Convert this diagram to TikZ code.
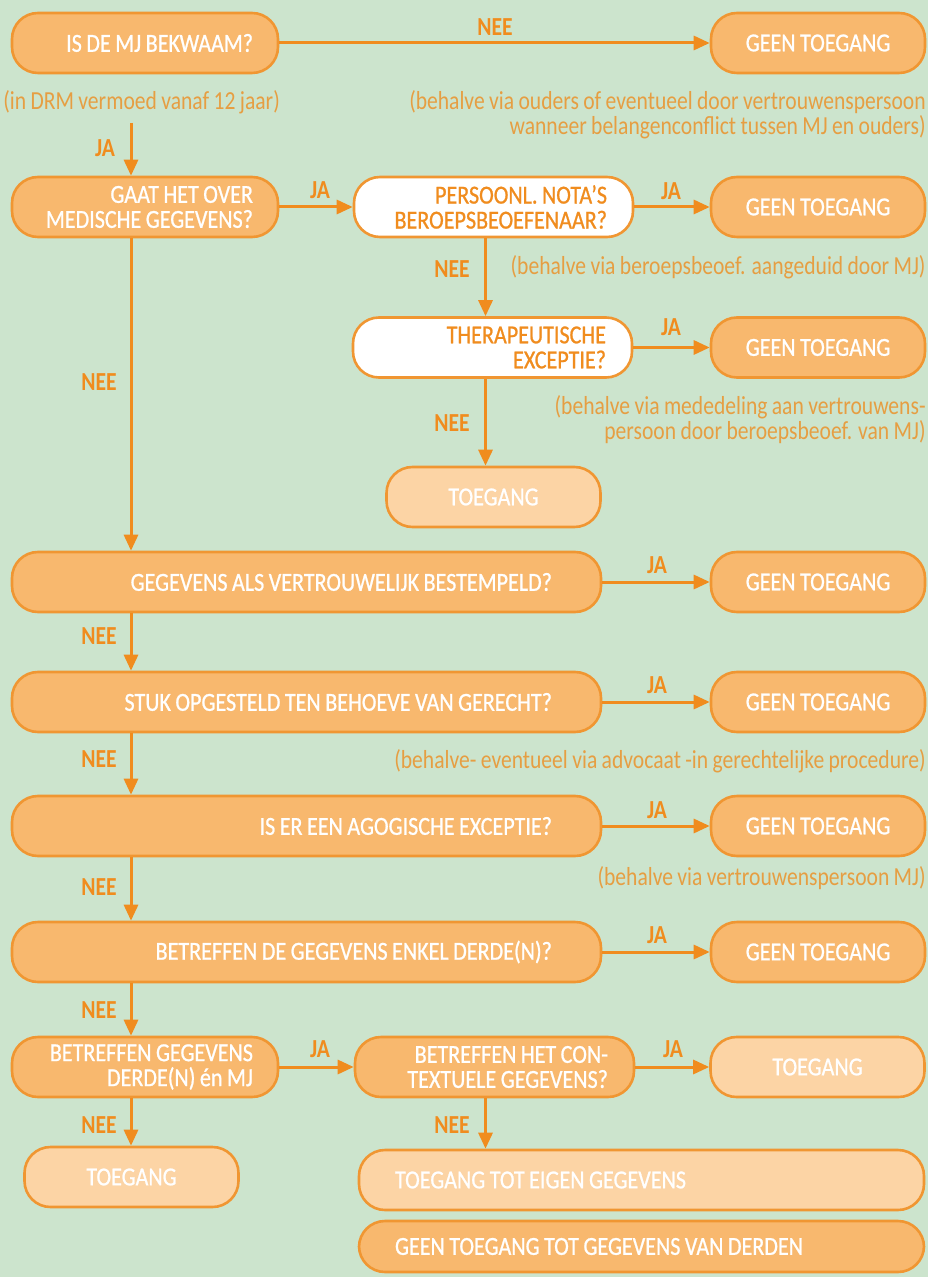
\documentclass[tikz,border=0pt]{standalone}
\usepackage{fontspec}
\setmainfont[FakeStretch=0.83,WordSpace=0.9]{Carlito}
\newfontfamily\vakfont[FakeStretch=0.85,WordSpace=0.9,FakeBold=0.8,Ligatures=TeX]{Carlito}
\usetikzlibrary{arrows.meta}
\definecolor{achtergrond}{RGB}{204,228,205}
\definecolor{oranje}{RGB}{240,140,30}
\definecolor{rand}{RGB}{240,150,50}
\definecolor{donker}{RGB}{248,184,110}
\definecolor{licht}{RGB}{252,212,165}
\definecolor{notakleur}{RGB}{230,158,66}
\begin{document}
\begin{tikzpicture}[x=0.5pt,y=-0.5pt,
    vak/.style={draw=rand,line width=1.3pt,rounded corners=13pt,minimum height=30pt,
        font=\vakfont\fontsize{13}{12.5}\selectfont,text=white},
    donkervak/.style={vak,fill=donker},
    lichtvak/.style={vak,fill=licht},
    witvak/.style={vak,fill=white,text=oranje},
    smal/.style={inner xsep=12.5pt,text width=108pt,align=flush right},
    breed/.style={inner xsep=24.5pt,text width=245.5pt,align=flush right},
    wit/.style={inner xsep=13pt,text width=113.5pt,align=flush right},
    eind/.style={minimum width=107pt,align=center},
    lang/.style={inner xsep=18pt,text width=246.5pt,align=flush left},
    lab/.style={text=oranje,font=\bfseries\fontsize{13}{12}\selectfont,inner sep=0pt},
    nota/.style={text=notakleur,font=\fontsize{13}{12.5}\selectfont,inner sep=0pt,align=flush right},
    pijl/.style={draw=oranje,line width=1.5pt,-{Triangle[length=8pt,width=7pt]}}]
    \fill[achtergrond] (0,0) rectangle (928,1277);
    \useasboundingbox (0,0) rectangle (928,1277);
    \coordinate (kolL) at (131,0);
    \coordinate (kolM) at (485.5,0);

    \node[donkervak,smal] (bekwaam) at (145,43) {IS DE MJ BEKWAAM?};
    \node[donkervak,eind] (geenA) at (818,43) {GEEN TOEGANG};
    \node[donkervak,smal] (medisch) at (145,207) {GAAT HET OVER\\MEDISCHE GEGEVENS?};
    \node[witvak,wit] (nota) at (493.5,207) {PERSOONL. NOTA’S\\BEROEPSBEOEFENAAR?};
    \node[donkervak,eind] (geenB) at (818,207) {GEEN TOEGANG};
    \node[witvak,wit] (therap) at (492.5,347.5) {THERAPEUTISCHE\\EXCEPTIE?};
    \node[donkervak,eind] (geenC) at (818,347.5) {GEEN TOEGANG};
    \node[lichtvak,eind] (toegA) at (493.5,497) {TOEGANG};
    \node[donkervak,breed] (vertrouw) at (306.5,582) {GEGEVENS ALS VERTROUWELIJK BESTEMPELD?};
    \node[donkervak,eind] (geenD) at (818,582) {GEEN TOEGANG};
    \node[donkervak,breed] (gerecht) at (306.5,702) {STUK OPGESTELD TEN BEHOEVE VAN GERECHT?};
    \node[donkervak,eind] (geenE) at (818,702) {GEEN TOEGANG};
    \node[donkervak,breed] (agogisch) at (306.5,826) {IS ER EEN AGOGISCHE EXCEPTIE?};
    \node[donkervak,eind] (geenF) at (818,826) {GEEN TOEGANG};
    \node[donkervak,breed] (enkel) at (306.5,952) {BETREFFEN DE GEGEVENS ENKEL DERDE(N)?};
    \node[donkervak,eind] (geenG) at (818,952) {GEEN TOEGANG};
    \node[donkervak,smal] (beide) at (145,1067) {BETREFFEN GEGEVENS\\DERDE(N) én MJ};
    \node[donkervak,wit] (context) at (494.5,1067) {BETREFFEN HET CON-\\TEXTUELE GEGEVENS?};
    \node[lichtvak,eind] (toegB) at (817.5,1067) {TOEGANG};
    \node[lichtvak,eind] (toegC) at (131.5,1177) {TOEGANG};
    \node[lichtvak,lang] (eigen) at (641.5,1180) {TOEGANG TOT EIGEN GEGEVENS};
    \node[donkervak,lang,minimum height=25.5pt] (derden) at (641.5,1246.5) {GEEN TOEGANG TOT GEGEVENS VAN DERDEN};

    \node[nota,anchor=west] (leeftijd) at (3,102) {(in DRM vermoed vanaf 12 jaar)};
    \node[nota,anchor=east] (ouders) at (926,114.5) {(behalve via ouders of eventueel door vertrouwenspersoon\\wanneer belangenconflict tussen MJ en ouders)};
    \node[nota,anchor=east] (beroeps) at (926,267) {(behalve via beroepsbeoef. aangeduid door MJ)};
    \node[nota,anchor=east] (mededeling) at (926,419.5) {(behalve via mededeling aan vertrouwens-\\persoon door beroepsbeoef. van MJ)};
    \node[nota,anchor=east] (advocaat) at (926,761) {(behalve- eventueel via advocaat -in gerechtelijke procedure)};
    \node[nota,anchor=east] (persoon) at (926,878) {(behalve via vertrouwenspersoon MJ)};

    \coordinate (jaStart) at (131,123);
    \draw[pijl] (bekwaam.east) -- (geenA.west);
    \draw[pijl] (jaStart) -- (kolL |- medisch.north);
    \draw[pijl] (medisch.east) -- (nota.west);
    \draw[pijl] (nota.east) -- (geenB.west);
    \draw[pijl] (kolM |- nota.south) -- (kolM |- therap.north);
    \draw[pijl] (therap.east) -- (geenC.west);
    \draw[pijl] (kolM |- therap.south) -- (kolM |- toegA.north);
    \draw[pijl] (kolL |- medisch.south) -- (kolL |- vertrouw.north);
    \draw[pijl] (vertrouw.east) -- (geenD.west);
    \draw[pijl] (kolL |- vertrouw.south) -- (kolL |- gerecht.north);
    \draw[pijl] (gerecht.east) -- (geenE.west);
    \draw[pijl] (kolL |- gerecht.south) -- (kolL |- agogisch.north);
    \draw[pijl] (agogisch.east) -- (geenF.west);
    \draw[pijl] (kolL |- agogisch.south) -- (kolL |- enkel.north);
    \draw[pijl] (enkel.east) -- (geenG.west);
    \draw[pijl] (kolL |- enkel.south) -- (kolL |- beide.north);
    \draw[pijl] (beide.east) -- (context.west);
    \draw[pijl] (context.east) -- (toegB.west);
    \draw[pijl] (kolL |- beide.south) -- (kolL |- toegC.north);
    \draw[pijl] (kolM |- context.south) -- (kolM |- eigen.north);

    \node[lab] (neeA) at (495,27) {NEE};
    \node[lab] (jaA) at (105,148) {JA};
    \node[lab] (jaB) at (320,190) {JA};
    \node[lab] (jaC) at (671,191) {JA};
    \node[lab] (neeB) at (452,269) {NEE};
    \node[lab] (jaD) at (671,327) {JA};
    \node[lab] (neeC) at (452,423) {NEE};
    \node[lab] (neeD) at (99,382) {NEE};
    \node[lab] (jaE) at (657,565) {JA};
    \node[lab] (neeE) at (99,636) {NEE};
    \node[lab] (jaF) at (657,685) {JA};
    \node[lab] (neeF) at (99,759) {NEE};
    \node[lab] (jaG) at (657,810) {JA};
    \node[lab] (neeG) at (99,887) {NEE};
    \node[lab] (jaH) at (657,935) {JA};
    \node[lab] (neeH) at (99,1010) {NEE};
    \node[lab] (jaI) at (320,1049) {JA};
    \node[lab] (jaJ) at (673,1049) {JA};
    \node[lab] (neeI) at (99,1125) {NEE};
    \node[lab] (neeJ) at (452,1125) {NEE};
\end{tikzpicture}
\end{document}
